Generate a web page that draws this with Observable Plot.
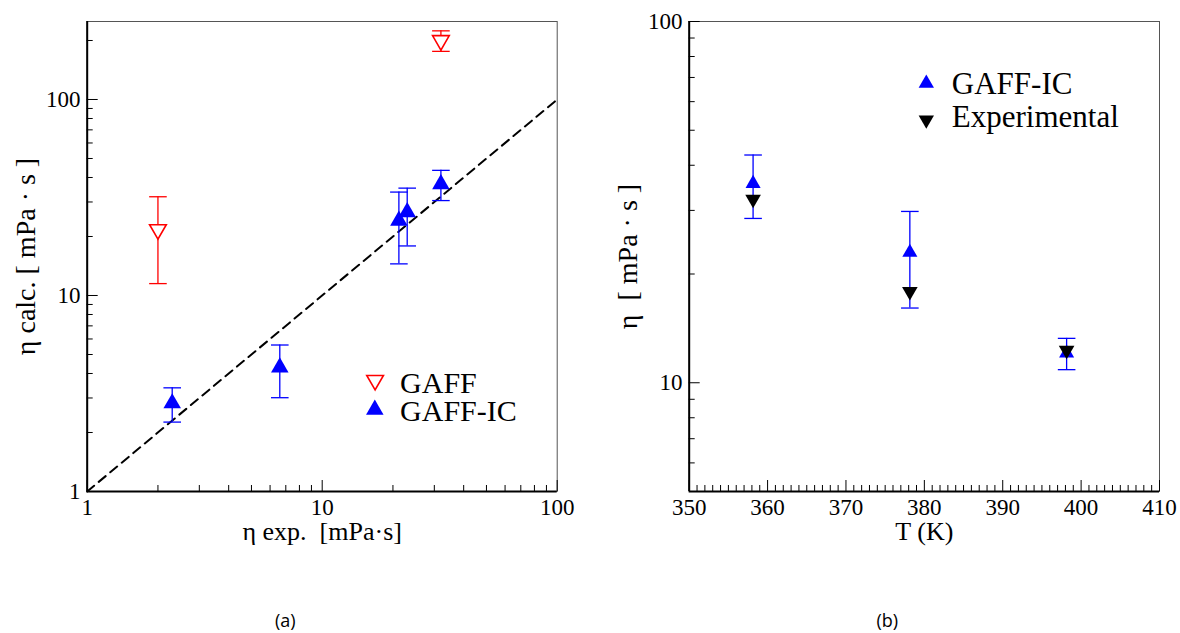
<!DOCTYPE html>
<html><head><meta charset="utf-8">
<script src="https://cdn.jsdelivr.net/npm/d3@7"></script>
<script src="https://cdn.jsdelivr.net/npm/@observablehq/plot@0.6"></script>
<style>
body{margin:0;background:#fff;}
#wrap{position:relative;width:1180px;height:633px;overflow:hidden;background:#fff;}
#left{position:absolute;left:0;top:0;}
#right{position:absolute;left:590px;top:0;}
svg text{font-family:"Liberation Serif","Times New Roman",serif;}
svg g.sanscap text{font-family:"Open Sans","Noto Sans",sans-serif;}
svg g.ytitle text{text-anchor:middle;}
</style></head>
<body><div id="wrap"><div id="left"></div><div id="right"></div></div>
<script>
// ---------- data: panel (a) ----------
const gaffExp  = [2.0, 32];
const gaffCalc = [21.7, 200];
const gaffErr  = [10.2, 24];
const icExp  = [2.3, 6.6, 21.2, 23.0, 32];
const icCalc = [2.82, 4.30, 24.1, 26.6, 37.0];
const icErr  = [0.56, 1.29, 9.6, 8.7, 6.5];
const diagonal = [1, 100];
const leftXDomain = [1, 100];
const leftYDomain = [1, 250];
const leftXTicks = [1, 10, 100];
const leftYTicks = [1, 10, 100];
const leftLegend = ["GAFF", "GAFF-IC"];
const leftXTitle = "η exp.\u00a0 [mPa·s]";
const leftYTitle = "η calc. [ mPa · s ]";

// ---------- data: panel (b) ----------
const tempK = [358.15, 378.15, 398.15];
const icVisc = [35.6, 22.95, 12.07];
const icViscErr = [7.1, 6.85, 1.2];
const expVisc = [32.2, 17.9, 12.3];
const rightXDomain = [350, 410];
const rightYDomain = [5, 100];
const rightXTicks = [350, 360, 370, 380, 390, 400, 410];
const rightYTicks = [10, 100];
const rightLegend = ["GAFF-IC", "Experimental"];
const rightXTitle = "T (K)";
const rightYTitle = "η\u00a0 [ mPa · s ]";

// ---------- helpers ----------
const SERIF = "Liberation Serif";
const SANS = "Open Sans";
const RED = "#ff0000", BLUE = "#0000ff", BLACK = "#000000";
const sqrt3 = Math.sqrt(3);
const triUp = {draw(ctx, size){ const y = -Math.sqrt(size / (sqrt3 * 3)); ctx.moveTo(0, y * 2); ctx.lineTo(-sqrt3 * y, -y); ctx.lineTo(sqrt3 * y, -y); ctx.closePath(); }};
const triDown = {draw(ctx, size){ const y = Math.sqrt(size / (sqrt3 * 3)); ctx.moveTo(0, y * 2); ctx.lineTo(-sqrt3 * y, -y); ctx.lineTo(sqrt3 * y, -y); ctx.closePath(); }};
const capSym = {draw(ctx){ ctx.moveTo(-8.8, 0); ctx.lineTo(8.8, 0); }};

function logMinor(domain){
  const out = [];
  for (let d = 1; d <= domain[1]; d *= 10)
    for (let k = 2; k <= 9; k++) { const v = k * d; if (v > domain[0] && v < domain[1]) out.push(v); }
  return out;
}

const W = 590, H = 633, MT = 21, MB = 142;
const FH = H - MT - MB; // frame height 470
const MAJ = 11, MIN = 6;
const TICKFS = 23, TITLEFS = 26, YTITLEFS = 28;

function titleMarks(xTitle, yTitle, cap, FW) {
  return [
    Plot.text([xTitle], {frameAnchor: "bottom", dy: 48, text: d => d, lineAnchor: "bottom", fontSize: TITLEFS, fontFamily: SERIF, fill: BLACK}),
    Plot.text([yTitle], {frameAnchor: "middle", dx: -(FW / 2 + 52), rotate: -90, text: d => d, lineAnchor: "bottom", fontSize: YTITLEFS, fontFamily: SERIF, fill: BLACK, className: "ytitle"}),
    Plot.text([cap], {frameAnchor: "bottom", dx: -37, dy: 135, text: d => d, lineAnchor: "bottom", fontSize: 18, fontFamily: SANS, fill: BLACK, className: "sanscap"})
  ];
}
function centreTitles(chart) {
  chart.querySelectorAll("g.ytitle text").forEach(t => t.setAttribute("text-anchor", "middle"));
}

// ---------- panel (a) ----------
{
  const ML = 86.7, MR = 33.3;
  const FW = W - ML - MR;
  const gi = d3.range(gaffExp.length), ii = d3.range(icExp.length);
  const xMinor = logMinor(leftXDomain), yMinor = logMinor(leftYDomain);
  const chart = Plot.plot({
    width: W, height: H, marginLeft: ML, marginRight: MR, marginTop: MT, marginBottom: MB,
    style: {fontFamily: SERIF, fontSize: "23px", background: "#fff", color: "#000"},
    x: {type: "log", domain: leftXDomain},
    y: {type: "log", domain: leftYDomain},
    marks: [
      Plot.frame({stroke: "#555", strokeWidth: 1}),
      Plot.tickX(xMinor, {x: d => d, insetTop: FH - MIN, stroke: BLACK}),
      Plot.tickX(leftXTicks, {x: d => d, insetTop: FH - MAJ, stroke: BLACK}),
      Plot.tickY(yMinor, {y: d => d, insetRight: FW - MIN, stroke: BLACK}),
      Plot.tickY(leftYTicks, {y: d => d, insetRight: FW - MAJ, stroke: BLACK}),
      Plot.ruleX([leftXDomain[0]], {stroke: BLACK, strokeWidth: 2}),
      Plot.ruleY([leftYDomain[0]], {stroke: BLACK, strokeWidth: 2}),
      Plot.axisX({ticks: leftXTicks, tickSize: 0, tickPadding: 7, tickFormat: d => String(d), label: null, fontSize: TICKFS, fontFamily: SERIF, fontVariant: "normal"}),
      Plot.axisY({ticks: leftYTicks, tickSize: 0, tickPadding: 6.7, tickFormat: d => String(d), label: null, fontSize: TICKFS, fontFamily: SERIF, fontVariant: "normal"}),
      Plot.line(diagonal, {x: d => d, y: d => d, stroke: BLACK, strokeWidth: 2, strokeDasharray: "9,6"}),
      // GAFF
      Plot.ruleX(gi, {x: i => gaffExp[i], y1: i => gaffCalc[i] - gaffErr[i], y2: i => gaffCalc[i] + gaffErr[i], stroke: RED, strokeWidth: 1.3}),
      Plot.dot(gi, {x: i => gaffExp[i], y: i => gaffCalc[i] - gaffErr[i], symbol: capSym, stroke: RED, fill: "none", strokeWidth: 1.3}),
      Plot.dot(gi, {x: i => gaffExp[i], y: i => gaffCalc[i] + gaffErr[i], symbol: capSym, stroke: RED, fill: "none", strokeWidth: 1.3}),
      Plot.dot(gi, {x: i => gaffExp[i], y: i => gaffCalc[i], symbol: triDown, r: 6.2, stroke: RED, fill: "#fff", strokeWidth: 1.6}),
      // GAFF-IC
      Plot.ruleX(ii, {x: i => icExp[i], y1: i => icCalc[i] - icErr[i], y2: i => icCalc[i] + icErr[i], stroke: BLUE, strokeWidth: 1.3}),
      Plot.dot(ii, {x: i => icExp[i], y: i => icCalc[i] - icErr[i], symbol: capSym, stroke: BLUE, fill: "none", strokeWidth: 1.3}),
      Plot.dot(ii, {x: i => icExp[i], y: i => icCalc[i] + icErr[i], symbol: capSym, stroke: BLUE, fill: "none", strokeWidth: 1.3}),
      Plot.dot(ii, {x: i => icExp[i], y: i => icCalc[i], symbol: triUp, r: 6.5, fill: BLUE, stroke: "none"}),
      // legend
      Plot.dot([leftLegend[0]], {frameAnchor: "top-left", dx: 287.9, dy: 358.8, symbol: triDown, r: 6.2, stroke: RED, fill: "#fff", strokeWidth: 1.6}),
      Plot.dot([leftLegend[1]], {frameAnchor: "top-left", dx: 287.6, dy: 388.1, symbol: triUp, r: 6.5, fill: BLUE, stroke: "none"}),
      Plot.text([leftLegend[0]], {frameAnchor: "top-left", dx: 312.9, dy: 371, text: d => d, textAnchor: "start", lineAnchor: "bottom", fontSize: 30, fontFamily: SERIF, fill: BLACK}),
      Plot.text([leftLegend[1]], {frameAnchor: "top-left", dx: 312.9, dy: 399, text: d => d, textAnchor: "start", lineAnchor: "bottom", fontSize: 30, fontFamily: SERIF, fill: BLACK}),
      ...titleMarks(leftXTitle, leftYTitle, "(a)", FW)
    ]
  });
  centreTitles(chart);
  document.getElementById("left").appendChild(chart);
}

// ---------- panel (b) ----------
{
  const ML = 98.7, MR = 21;
  const FW = W - ML - MR;
  const ti = d3.range(tempK.length);
  const xMinor = d3.range(rightXDomain[0] + 1, rightXDomain[1]).filter(v => v % 10 !== 0);
  const yMinor = logMinor(rightYDomain).filter(v => v !== 10 && v !== 100);
  const chart = Plot.plot({
    width: W, height: H, marginLeft: ML, marginRight: MR, marginTop: MT, marginBottom: MB,
    style: {fontFamily: SERIF, fontSize: "23px", background: "#fff", color: "#000"},
    x: {type: "linear", domain: rightXDomain},
    y: {type: "log", domain: rightYDomain},
    marks: [
      Plot.frame({stroke: "#555", strokeWidth: 1}),
      Plot.tickX(xMinor, {x: d => d, insetTop: FH - MIN, stroke: BLACK}),
      Plot.tickX(rightXTicks, {x: d => d, insetTop: FH - MAJ, stroke: BLACK}),
      Plot.tickY(yMinor, {y: d => d, insetRight: FW - MIN, stroke: BLACK}),
      Plot.tickY(rightYTicks, {y: d => d, insetRight: FW - MAJ, stroke: BLACK}),
      Plot.ruleX([rightXDomain[0]], {stroke: BLACK, strokeWidth: 2}),
      Plot.ruleY([rightYDomain[0]], {stroke: BLACK, strokeWidth: 2}),
      Plot.axisX({ticks: rightXTicks, tickSize: 0, tickPadding: 7, tickFormat: d => String(d), label: null, fontSize: TICKFS, fontFamily: SERIF, fontVariant: "normal"}),
      Plot.axisY({ticks: rightYTicks, tickSize: 0, tickPadding: 6.7, tickFormat: d => String(d), label: null, fontSize: TICKFS, fontFamily: SERIF, fontVariant: "normal"}),
      // GAFF-IC
      Plot.ruleX(ti, {x: i => tempK[i], y1: i => icVisc[i] - icViscErr[i], y2: i => icVisc[i] + icViscErr[i], stroke: BLUE, strokeWidth: 1.3}),
      Plot.dot(ti, {x: i => tempK[i], y: i => icVisc[i] - icViscErr[i], symbol: capSym, stroke: BLUE, fill: "none", strokeWidth: 1.3}),
      Plot.dot(ti, {x: i => tempK[i], y: i => icVisc[i] + icViscErr[i], symbol: capSym, stroke: BLUE, fill: "none", strokeWidth: 1.3}),
      Plot.dot(ti, {x: i => tempK[i], y: i => icVisc[i], symbol: triUp, r: 5.6, fill: BLUE, stroke: "none"}),
      // Experimental
      Plot.dot(ti, {x: i => tempK[i], y: i => expVisc[i], symbol: triDown, r: 5.8, fill: BLACK, stroke: "none"}),
      // legend
      Plot.dot([rightLegend[0]], {frameAnchor: "top-left", dx: 237.1, dy: 61.9, symbol: triUp, r: 5.7, fill: BLUE, stroke: "none"}),
      Plot.dot([rightLegend[1]], {frameAnchor: "top-left", dx: 237.1, dy: 98.4, symbol: triDown, r: 5.7, fill: BLACK, stroke: "none"}),
      Plot.text([rightLegend[0]], {frameAnchor: "top-left", dx: 262.6, dy: 72.3, text: d => d, textAnchor: "start", lineAnchor: "bottom", fontSize: 31, fontFamily: SERIF, fill: BLACK}),
      Plot.text([rightLegend[1]], {frameAnchor: "top-left", dx: 262.6, dy: 105.7, text: d => d, textAnchor: "start", lineAnchor: "bottom", fontSize: 31, fontFamily: SERIF, fill: BLACK}),
      ...titleMarks(rightXTitle, rightYTitle, "(b)", FW)
    ]
  });
  centreTitles(chart);
  document.getElementById("right").appendChild(chart);
}
</script>
</body></html>
